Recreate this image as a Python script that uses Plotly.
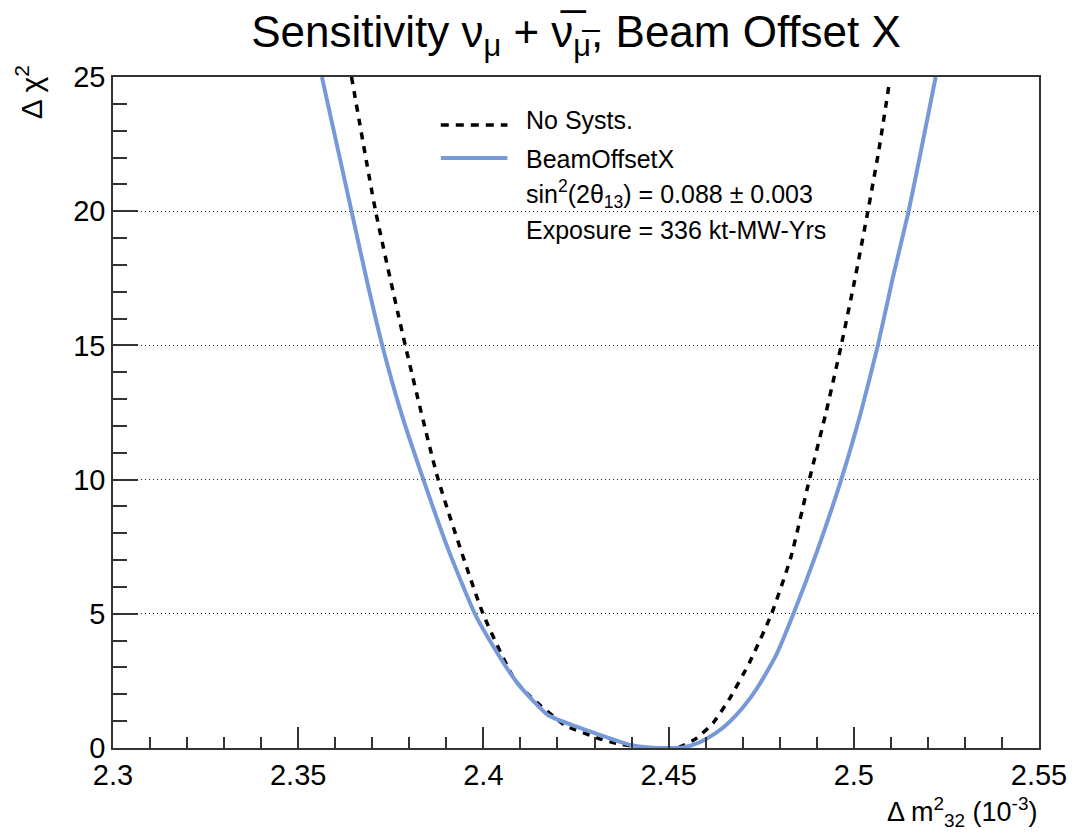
import plotly.graph_objects as go

# ---- data ----
dm2_systs = [2.3564, 2.3604, 2.3644, 2.3684, 2.3727, 2.3780, 2.3838, 2.3905, 2.3977,
             2.4035, 2.4090, 2.4135, 2.4175, 2.4240, 2.4308, 2.4360, 2.4400, 2.4450,
             2.4500, 2.4540, 2.4576, 2.4600, 2.4630, 2.4665, 2.4700, 2.4740, 2.4790,
             2.4837, 2.4900, 2.4966, 2.5019, 2.5065, 2.5105, 2.5148, 2.5185, 2.5221]
chi2_systs = [25.0, 22.5, 20.0, 17.5, 15.0, 12.4, 10.0, 7.4, 5.0,
              3.6, 2.45, 1.75, 1.22, 0.85, 0.52, 0.27, 0.10, 0.02,
              0.0, 0.02, 0.17, 0.33, 0.58, 0.98, 1.5, 2.25, 3.45,
              5.0, 7.3, 10.0, 12.5, 15.0, 17.5, 20.0, 22.5, 25.0]

dm2_nosys = [2.3644, 2.3709, 2.3789, 2.3878, 2.3999, 2.4085, 2.4128, 2.4219, 2.4308,
             2.4353, 2.4423, 2.4490, 2.4530, 2.4576, 2.4620, 2.4665, 2.4719, 2.4778,
             2.4830, 2.4880, 2.4925, 2.4966, 2.5002, 2.5038, 2.5068, 2.5095]
chi2_nosys = [25.0, 20.0, 15.0, 10.0, 5.0, 2.53, 1.9, 0.86, 0.37,
              0.19, 0.02, 0.0, 0.04, 0.37, 0.93, 1.85, 3.2, 5.0,
              7.1, 10.0, 12.5, 15.0, 17.4, 20.0, 22.3, 24.7]

x_ticks = [2.3, 2.35, 2.4, 2.45, 2.5, 2.55]
x_ticklabels = ["2.3", "2.35", "2.4", "2.45", "2.5", "2.55"]
y_ticks = [0, 5, 10, 15, 20, 25]
y_ticklabels = ["0", "5", "10", "15", "20", "25"]

FONT = "Liberation Sans, Arial, Helvetica, sans-serif"
BLUE = "#7899d7"
AX = "#333333"

fig = go.Figure()
fig.add_trace(go.Scatter(x=dm2_nosys, y=chi2_nosys, mode="lines", name="No Systs.",
                         line=dict(color="black", width=3.5, dash="7px,7px", shape="spline",
                                   smoothing=0.5), showlegend=False))
fig.add_trace(go.Scatter(x=dm2_systs, y=chi2_systs, mode="lines", name="BeamOffsetX",
                         line=dict(color=BLUE, width=4, shape="spline", smoothing=0.5),
                         showlegend=False))

# legend background (hides gridline behind the legend)
fig.add_shape(type="rect", xref="paper", yref="paper", x0=0.338, x1=0.7575, y0=0.742, y1=0.973,
              fillcolor="white", line=dict(width=0), layer="between")
# legend samples
fig.add_shape(type="line", xref="paper", yref="paper", x0=0.354, x1=0.426, y0=0.9284, y1=0.9284,
              line=dict(color="black", width=3.5, dash="8px,7px"))
fig.add_shape(type="line", xref="paper", yref="paper", x0=0.354, x1=0.426, y0=0.8793, y1=0.8793,
              line=dict(color=BLUE, width=4))

leg_font = dict(family=FONT, size=25, color="black")
legend_texts = [
    ("No Systs.", 0.9359),
    ("BeamOffsetX", 0.8778),
    ("sin<sup>2</sup>(2θ<sub>13</sub>) = 0.088 ± 0.003", 0.8260),
    ("Exposure = 336 kt-MW-Yrs", 0.7720),
]
for txt, yy in legend_texts:
    fig.add_annotation(text=txt, xref="paper", yref="paper", x=0.4442, y=yy,
                       xanchor="left", yanchor="middle", showarrow=False, font=leg_font)

# axis titles
fig.add_annotation(text="Δ χ<sup>2</sup>", xref="paper", yref="paper", x=-0.091, y=1.02,
                   xanchor="center", yanchor="top", textangle=-90, showarrow=False,
                   font=dict(family=FONT, size=30, color="black"))
fig.add_annotation(text="Δ m<sup>2</sup><sub>32</sub> (10<sup>-3</sup>)", xref="paper", yref="paper",
                   x=1.0, y=-0.095, xanchor="right", yanchor="middle", showarrow=False,
                   font=dict(family=FONT, size=27, color="black"))

fig.update_layout(
    width=1079, height=834,
    margin=dict(l=113, r=34, t=77, b=86),
    paper_bgcolor="white", plot_bgcolor="white",
    title=dict(text='Sensitivity ν<sub>μ</sub> + ν\u0305<sub>μ\u0305</sub>, Beam Offset X',
               x=0.5, xref="paper", xanchor="center", y=0.962, yref="container", yanchor="middle",
               font=dict(family=FONT, size=44, color="black")),
    font=dict(family=FONT, color="black"),
)
fig.update_xaxes(range=[2.3, 2.55], tickmode="array", tickvals=x_ticks, ticktext=x_ticklabels,
                 ticks="inside", ticklen=21, tickwidth=1.5, tickcolor=AX,
                 showline=True, linecolor=AX, linewidth=1.5, mirror=True,
                 showgrid=False, zeroline=False,
                 tickfont=dict(family=FONT, size=29, color="black"),
                 minor=dict(dtick=0.01, tick0=2.3, ticks="inside", ticklen=11, tickwidth=1.5,
                            tickcolor=AX, showgrid=False))
fig.update_yaxes(range=[0, 25], tickmode="array", tickvals=y_ticks, ticktext=y_ticklabels,
                 ticks="inside", ticklen=25, tickwidth=1.5, tickcolor=AX,
                 showline=True, linecolor=AX, linewidth=1.5, mirror=True,
                 showgrid=True, gridcolor="#222", gridwidth=1, griddash="1px,3px", zeroline=False,
                 tickfont=dict(family=FONT, size=29, color="black"),
                 minor=dict(dtick=1, tick0=0, ticks="inside", ticklen=14, tickwidth=1.5,
                            tickcolor=AX, showgrid=False))

fig.write_html("out.html")
